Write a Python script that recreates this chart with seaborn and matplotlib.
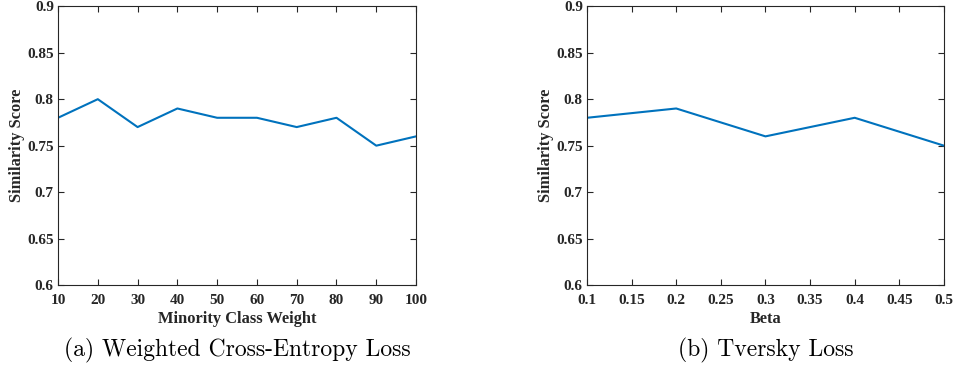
import numpy as np
import pandas as pd
import matplotlib
matplotlib.use("Agg")
import matplotlib.pyplot as plt
import seaborn as sns

# values
minority_weight = [10, 20, 30, 40, 50, 60, 70, 80, 90, 100]
wce_score = [0.78, 0.80, 0.77, 0.79, 0.78, 0.78, 0.77, 0.78, 0.75, 0.76]
beta = [0.1, 0.2, 0.3, 0.4, 0.5]
tversky_score = [0.78, 0.79, 0.76, 0.78, 0.75]
y_ticks = [0.6, 0.65, 0.7, 0.75, 0.8, 0.85, 0.9]
beta_ticks = [0.1, 0.15, 0.2, 0.25, 0.3, 0.35, 0.4, 0.45, 0.5]
captions = ["(a) Weighted Cross-Entropy Loss", "(b) Tversky Loss"]

sns.set_theme(style="ticks")
plt.rcParams['font.family'] = ['Liberation Serif', 'DejaVu Serif']
plt.rcParams['font.weight'] = 'bold'
plt.rcParams['axes.labelweight'] = 'bold'

df_wce = pd.DataFrame({"weight": minority_weight, "score": wce_score})
df_tv = pd.DataFrame({"beta": beta, "score": tversky_score})

fig = plt.figure(figsize=(9.56, 3.66), dpi=100)
ax1 = fig.add_axes([0.0607, 0.221, 0.3745, 0.762])
ax2 = fig.add_axes([0.614, 0.221, 0.3734, 0.762])

line_color = "#0072BD"
sns.lineplot(data=df_wce, x="weight", y="score", ax=ax1, color=line_color, linewidth=1.5)
sns.lineplot(data=df_tv, x="beta", y="score", ax=ax2, color=line_color, linewidth=1.5)

ax1.set_xlim(10, 100)
ax1.set_xticks(minority_weight)
ax1.set_xticklabels([str(v) for v in minority_weight])
ax1.set_xlabel("Minority Class Weight", fontsize=11.8, labelpad=2.5)

ax2.set_xlim(0.1, 0.5)
ax2.set_xticks(beta_ticks)
ax2.set_xticklabels([f"{v:g}" for v in beta_ticks])
ax2.set_xlabel("Beta", fontsize=11.8, labelpad=2.5)

for ax, cap in zip([ax1, ax2], captions):
    ax.set_ylim(0.6, 0.9)
    ax.set_yticks(y_ticks)
    ax.set_yticklabels([f"{v:g}" for v in y_ticks])
    ax.set_ylabel("Similarity Score", fontsize=11.8, labelpad=1.5)
    ax.tick_params(direction="in", top=True, right=True, length=4, width=0.8,
                   labelsize=11, colors="#262626")
    ax.tick_params(axis="x", pad=6.5)
    ax.tick_params(axis="y", pad=3)
    for lab in ax.get_xticklabels() + ax.get_yticklabels():
        lab.set_fontweight("bold")
    for sp in ax.spines.values():
        sp.set_visible(True)
        sp.set_linewidth(0.8)
        sp.set_color("#262626")
    ax.text(0.5, -0.233, cap, transform=ax.transAxes, ha="center", va="center",
            fontsize=17, fontfamily="cmr10", fontweight="normal", color="black")

fig.savefig("out.png", dpi=100)
